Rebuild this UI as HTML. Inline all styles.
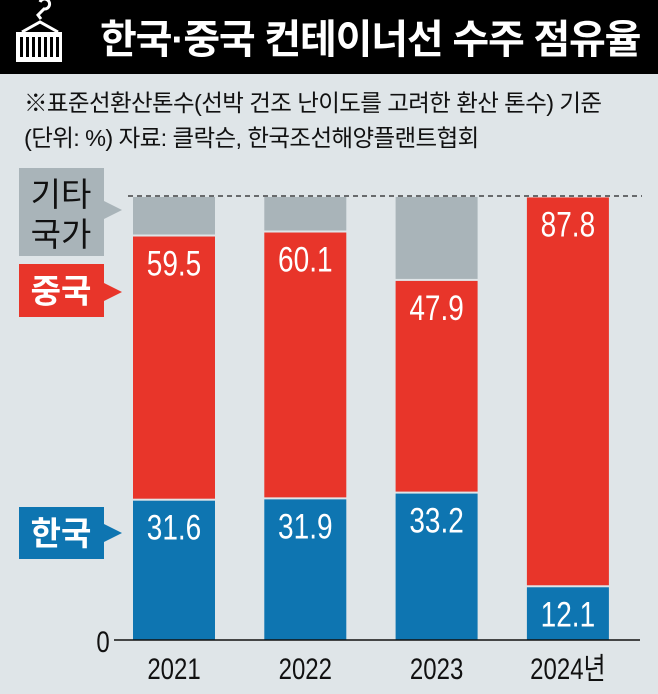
<!DOCTYPE html>
<html><head><meta charset="utf-8">
<style>
body{margin:0;width:658px;height:694px;background:#dfe5e8;overflow:hidden;font-family:"Liberation Sans","Noto Sans CJK KR",sans-serif;}
#wrap{position:relative;width:658px;height:694px;}
.hdr{position:absolute;left:0;top:0;width:658px;height:74px;background:#000;}
.title{position:absolute;left:100px;top:7px;color:#fff;font-size:40px;font-weight:bold;letter-spacing:-1.2px;white-space:nowrap;font-family:"Liberation Sans","Noto Sans CJK KR",sans-serif;}
.sub{position:absolute;left:24px;color:#111;font-size:23.5px;white-space:nowrap;letter-spacing:-0.6px;}
</style></head><body>
<div id="wrap">
<div class="hdr"></div>
<svg style="position:absolute;left:0;top:0" width="80" height="74">
<path d="M40 2 a5 5 0 1 1 4 7 l-6 6 l3 4" fill="none" stroke="#fff" stroke-width="3"/>
<path d="M22 32 L40 22 L58 32" fill="none" stroke="#fff" stroke-width="3"/>
<rect x="16" y="32" width="46" height="30" fill="#fff"/>
<g fill="#000"><rect x="20" y="37" width="3" height="20"/><rect x="26" y="37" width="3" height="20"/><rect x="32" y="37" width="3" height="20"/><rect x="38" y="37" width="3" height="20"/><rect x="44" y="37" width="3" height="20"/><rect x="50" y="37" width="3" height="20"/><rect x="56" y="37" width="3" height="20"/></g>
</svg>
<div class="title">한국·중국 컨테이너선 수주 점유율</div>
<div class="sub" style="top:84px">※표준선환산톤수(선박 건조 난이도를 고려한 환산 톤수) 기준</div>
<div class="sub" style="top:119px">(단위: %) 자료: 클락슨, 한국조선해양플랜트협회</div>
<svg id="chart" style="position:absolute;left:0;top:0" width="658" height="694"></svg>
</div>
<script>
const years=["2021","2022","2023","2024년"];
const korea=[31.6,31.9,33.2,12.1];
const china=[59.5,60.1,47.9,87.8];
const NS="http://www.w3.org/2000/svg";
const svg=document.getElementById("chart");
const y0=640,pxPer=4.44,x0=133,step=131.3,bw=82;
const yS=v=>y0-v*pxPer;
const xS=i=>x0+i*step;
function mk(t,a){const e=document.createElementNS(NS,t);for(const k in a)e.setAttribute(k,a[k]);svg.appendChild(e);return e;}
function ctext(cx,cy,size,fill,str){
  const t=mk("text",{x:0,y:0,"text-anchor":"middle",fill:fill,"font-size":size,transform:`translate(${cx},${cy}) scale(0.8,1)`,"font-family":"Liberation Sans, Noto Sans CJK KR, sans-serif"});
  t.textContent=str;return t;
}
let dl=mk("line",{x1:128,x2:642,y1:yS(100),y2:yS(100),stroke:"#222","stroke-width":1.3,"stroke-dasharray":"5,4"});


years.forEach((yr,i)=>{
  const x=xS(i);
  const other=100-korea[i]-china[i];
  if(other>0.5){
    const g=mk("rect",{x:x,y:yS(100)+1,width:bw,height:other*pxPer-2,fill:"#a9b4b9"});
    
    
  }
  const r=mk("rect",{x:x,y:yS(korea[i]+china[i])+1,width:bw,height:china[i]*pxPer-2,fill:"#e8352a"});
  
  
  const b=mk("rect",{x:x,y:yS(korea[i])+1,width:bw,height:korea[i]*pxPer-1,fill:"#0e75b1"});
  
  
  const tc=ctext(x+bw/2,yS(korea[i]+china[i])+40,35,"#fff",china[i].toFixed(1));
  
  
  const tk=ctext(x+bw/2,yS(korea[i])+40,35,"#fff",korea[i].toFixed(1));
  
  
  const ty=ctext(x+bw/2,679,30,"#111",yr);
  
  
});
let ax=mk("line",{x1:114,x2:640,y1:y0,y2:y0,stroke:"#111","stroke-width":1.5});


let z=ctext(103,y0+12,30,"#111","0");


function legend(name,y1,y2,ay,fill,lines,tcol){
  const p=mk("path",{d:`M19 ${y1} H104 V${ay-9} L122 ${ay} L104 ${ay+9} V${y2} H19 Z`,fill:fill});
  
  
  lines.forEach((l,j)=>{
    const t=mk("text",{x:61,y:(lines.length==1?(y1+y2)/2+12:y1+38+j*40),"text-anchor":"middle",fill:tcol,"font-size":33,"font-weight":(tcol=="#fff"?"bold":"normal"),"font-family":"Noto Sans CJK KR, sans-serif"});
    t.textContent=l;
    
    
  });
}
legend("other",168,256,210,"#a9b4b9",["기타","국가"],"#111");
legend("china",264,317,292,"#e8352a",["중국"],"#fff");
legend("korea",507,559,533,"#0e75b1",["한국"],"#fff");
</script>
</body></html>
